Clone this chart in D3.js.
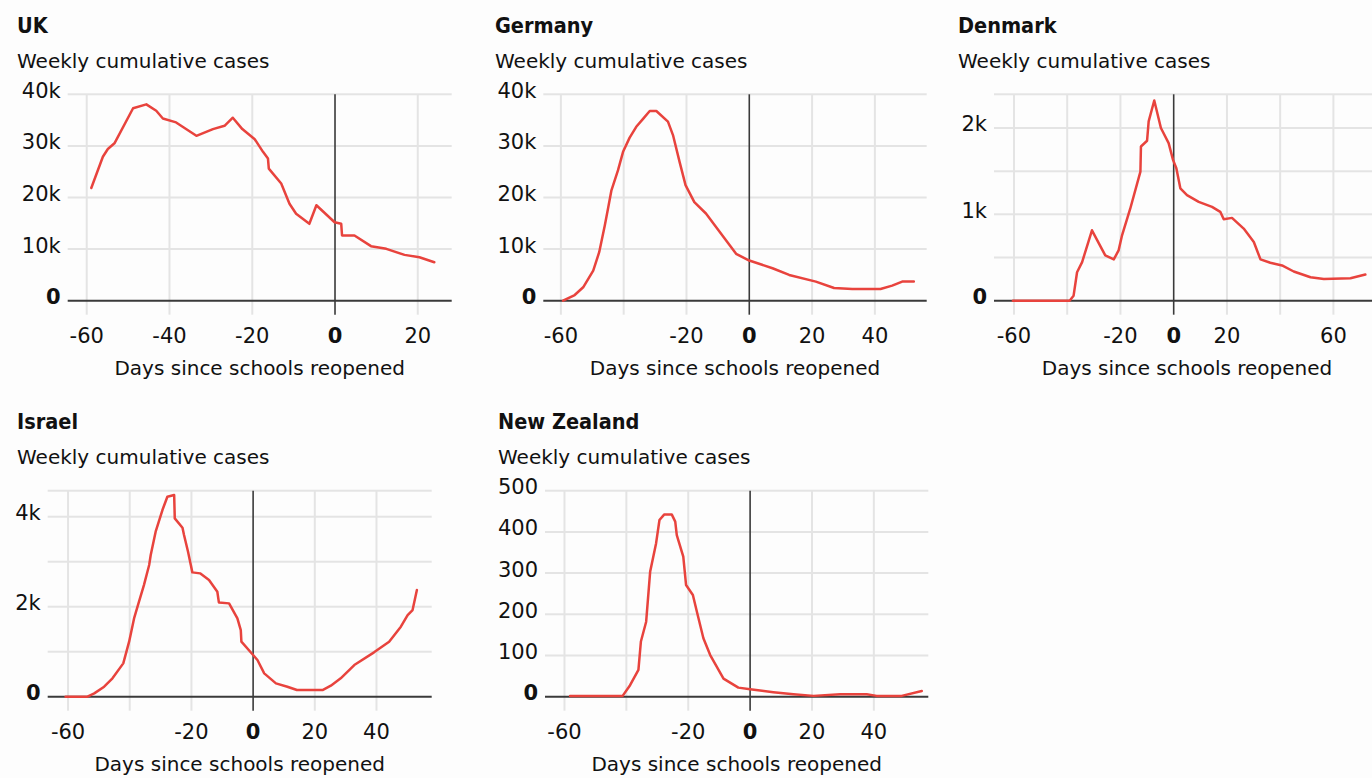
<!DOCTYPE html>
<html>
<head>
<meta charset="utf-8">
<script src="https://cdn.jsdelivr.net/npm/d3@7"></script>
<style>
  html, body { margin: 0; padding: 0; background: #fdfdfd; }
  svg { display: block; }
</style>
</head>
<body>
<svg id="chart" width="1372" height="778"></svg>
<script>
// ---------------- DATA ----------------
const countries = ["UK", "Germany", "Denmark", "Israel", "New Zealand"];
const subtitle = "Weekly cumulative cases";
const xAxisTitle = "Days since schools reopened";

const ukDays  = [-58.9,-56.1,-54.9,-53.3,-48.8,-45.6,-43.2,-41.6,-38.4,-33.5,-29.5,-26.7,-24.7,-22.4,-19.4,-17.4,-16.2,-16.0,-13.0,-11.0,-9.4,-6.2,-4.5,-0.1,1.5,1.7,4.7,8.7,12.4,16.8,20.4,24.0];
const ukCases = [21850,27900,29400,30500,37300,38050,36800,35300,34550,31960,33260,33900,35460,33260,31300,28850,27550,25600,22700,18800,16850,14900,18500,15200,14900,12640,12640,10570,10050,8880,8430,7460];

const deDays  = [-59.3,-55.6,-52.9,-49.7,-47.8,-46.0,-45.0,-43.9,-41.8,-40.2,-38.1,-36.0,-33.9,-31.7,-29.6,-25.9,-24.3,-22.2,-20.3,-17.5,-13.8,-8.5,-4.2,0,7.4,12.7,21.2,27.0,32.8,41.8,45.5,48.7,52.4];
const deCases = [0,1100,2600,5830,9400,14600,17800,21400,25300,28850,31600,33700,35200,36760,36760,34700,32100,26900,22400,19100,16900,12600,9080,7780,6290,4990,3700,2460,2270,2270,2920,3700,3700];

const dkDays  = [-60.4,-39.1,-37.6,-36.3,-34.4,-30.7,-25.7,-22.5,-20.7,-19.4,-16.3,-12.5,-12.3,-10.0,-9.4,-7.3,-4.8,-1.9,-0.25,1.0,2.5,5.0,9.4,14.4,17.5,18.8,21.9,26.3,30.1,32.6,36.3,40.7,45.1,51.4,56.4,66.4,72.0];
const dkCases = [0,0,58,330,447,815,524,478,582,757,1068,1495,1786,1852,2077,2318,2000,1825,1631,1534,1301,1223,1145,1087,1029,944,959,835,680,478,439,408,338,272,252,260,303];

const ilDays  = [-60.8,-53.7,-51.5,-48.3,-45.6,-42.1,-40.2,-38.6,-37.0,-35.4,-33.7,-33.2,-31.6,-29.4,-27.8,-25.6,-25.4,-22.9,-22.4,-21.1,-20.2,-19.7,-17.2,-14.3,-11.6,-11.1,-7.8,-5.1,-4.0,-3.8,0,1.4,3.6,7.4,11.1,14.2,22.5,25.2,28.4,32.8,39.2,44.1,47.9,50.1,51.7,53.1];
const ilCases = [0,0,74,222,408,741,1223,1741,2112,2482,2927,3149,3668,4150,4446,4483,3964,3757,3594,3223,2927,2764,2742,2593,2334,2097,2075,1741,1482,1223,926,815,519,296,222,148,148,245,408,704,986,1223,1556,1815,1927,2371];

const nzDays  = [-58.2,-41.2,-38.8,-36.1,-35.3,-33.6,-32.3,-30.4,-29.3,-27.8,-25.3,-24.2,-23.7,-21.6,-20.7,-18.5,-17.2,-15.1,-12.9,-8.6,-3.8,0,7.5,14.0,20.5,29.1,37.7,40.9,49.0,55.5];
const nzCases = [2,2,28,65,134,182,304,372,429,442,442,425,392,340,271,247,206,142,101,44,22,18,11,6,2,6,6,2,2,14];

// tick values / labels
const ukYTicks = [0,10000,20000,30000,40000];   const ukYLabels = ["0","10k","20k","30k","40k"];
const deYTicks = [0,10000,20000,30000,40000];   const deYLabels = ["0","10k","20k","30k","40k"];
const dkYTicks = [0,500,1000,1500,2000];        const dkYLabels = ["0","","1k","","2k"];
const ilYTicks = [0,1000,2000,3000,4000];       const ilYLabels = ["0","","2k","","4k"];
const nzYTicks = [0,100,200,300,400,500];       const nzYLabels = ["0","100","200","300","400","500"];

const ukXTicks = [-60,-40,-20,0,20];            const ukXLabels = ["-60","-40","-20","0","20"];
const deXTicks = [-60,-40,-20,0,20,40];         const deXLabels = ["-60","","-20","0","20","40"];
const dkXTicks = [-60,-40,-20,0,20,40,60];      const dkXLabels = ["-60","","-20","0","20","","60"];
const ilXTicks = [-60,-40,-20,0,20,40];         const ilXLabels = ["-60","","-20","0","20","40"];
const nzXTicks = [-60,-40,-20,0,20,40];         const nzXLabels = ["-60","","-20","0","20","40"];

// domains
const ukXDomain = [-64.6, 28.2]; const ukYMax = 40000;
const deXDomain = [-65.6, 56.5]; const deYMax = 40000;
const dkXDomain = [-67.5, 77.5]; const dkYMax = 2390;
const ilXDomain = [-66.6, 57.9]; const ilYMax = 4580;
const nzXDomain = [-66.3, 57.6]; const nzYMax = 500;

// ---------------- LAYOUT ----------------
const panels = [
  { name: countries[0], days: ukDays, cases: ukCases, xDom: ukXDomain, yMax: ukYMax, yTicks: ukYTicks, yLabels: ukYLabels, xTicks: ukXTicks, xLabels: ukXLabels, left: 67.7, right: 451.7, top: 94.3, bottom: 300.7, titleX: 17 },
  { name: countries[1], days: deDays, cases: deCases, xDom: deXDomain, yMax: deYMax, yTicks: deYTicks, yLabels: deYLabels, xTicks: deXTicks, xLabels: deXLabels, left: 543.3, right: 926.7, top: 94.3, bottom: 300.7, titleX: 495 },
  { name: countries[2], days: dkDays, cases: dkCases, xDom: dkXDomain, yMax: dkYMax, yTicks: dkYTicks, yLabels: dkYLabels, xTicks: dkXTicks, xLabels: dkXLabels, left: 994, right: 1380, top: 94.3, bottom: 300.7, titleX: 958 },
  { name: countries[3], days: ilDays, cases: ilCases, xDom: ilXDomain, yMax: ilYMax, yTicks: ilYTicks, yLabels: ilYLabels, xTicks: ilXTicks, xLabels: ilXLabels, left: 47.7, right: 431.7, top: 490.7, bottom: 696.7, titleX: 17 },
  { name: countries[4], days: nzDays, cases: nzCases, xDom: nzXDomain, yMax: nzYMax, yTicks: nzYTicks, yLabels: nzYLabels, xTicks: nzXTicks, xLabels: nzXLabels, left: 545, right: 928.3, top: 490.7, bottom: 696.7, titleX: 498 }
];

const svg = d3.select("#chart");
const TEXT = "#111";
const GRID = "#e4e4e4";
const AXIS = "#3a3a3a";
const RED = "#e8433d";
const FONT = "'DejaVu Sans', sans-serif";
const TITLEFONT = "'DejaVu Sans Condensed', 'DejaVu Sans', sans-serif";

panels.forEach(p => {
  const g = svg.append("g");
  const x = d3.scaleLinear().domain(p.xDom).range([p.left, p.right]);
  const y = d3.scaleLinear().domain([0, p.yMax]).range([p.bottom, p.top]);

  // titles
  g.append("text").attr("x", p.titleX).attr("y", p.top - 61.3)
    .attr("font-family", TITLEFONT).attr("font-stretch", "condensed")
    .attr("font-weight", "bold").attr("font-size", 21.5).attr("fill", TEXT).text(p.name);
  g.append("text").attr("x", p.titleX).attr("y", p.top - 26.3)
    .attr("font-family", FONT).attr("font-size", 20).attr("fill", TEXT).text(subtitle);

  // horizontal grid (ticks + top frame)
  const hLines = Array.from(new Set(p.yTicks.filter(v => v > 0).concat([p.yMax])));
  g.selectAll(".hg").data(hLines).enter().append("line")
    .attr("x1", p.left).attr("x2", p.right)
    .attr("y1", d => y(d)).attr("y2", d => y(d))
    .attr("stroke", GRID).attr("stroke-width", 2);

  // vertical grid
  g.selectAll(".vg").data(p.xTicks.filter(v => v !== 0)).enter().append("line")
    .attr("x1", d => x(d)).attr("x2", d => x(d))
    .attr("y1", p.top).attr("y2", p.bottom + 14)
    .attr("stroke", GRID).attr("stroke-width", 2);

  // zero vertical line
  g.append("line").attr("x1", x(0)).attr("x2", x(0))
    .attr("y1", p.top).attr("y2", p.bottom + 14)
    .attr("stroke", AXIS).attr("stroke-width", 1.6);

  // bottom axis line
  g.append("line").attr("x1", p.left).attr("x2", p.right)
    .attr("y1", y(0)).attr("y2", y(0))
    .attr("stroke", AXIS).attr("stroke-width", 2);

  // y tick labels
  g.selectAll(".yl").data(p.yTicks.map((v, i) => ({ v, l: p.yLabels[i] })).filter(d => d.l !== ""))
    .enter().append("text")
    .attr("x", p.left - 7).attr("y", d => y(d.v) + 3.5)
    .attr("text-anchor", "end")
    .attr("font-family", FONT).attr("font-size", 21)
    .attr("font-weight", d => d.v === 0 ? "bold" : "normal")
    .attr("fill", TEXT).text(d => d.l);

  // x tick labels
  g.selectAll(".xl").data(p.xTicks.map((v, i) => ({ v, l: p.xLabels[i] })).filter(d => d.l !== ""))
    .enter().append("text")
    .attr("x", d => x(d.v)).attr("y", p.bottom + 42.6)
    .attr("text-anchor", "middle")
    .attr("font-family", FONT).attr("font-size", 21)
    .attr("font-weight", d => d.v === 0 ? "bold" : "normal")
    .attr("fill", TEXT).text(d => d.l);

  // x axis title
  g.append("text").attr("x", (p.left + p.right) / 2).attr("y", p.bottom + 74)
    .attr("text-anchor", "middle")
    .attr("font-family", FONT).attr("font-size", 20).attr("fill", TEXT).text(xAxisTitle);

  // data line
  const pts = p.days.map((d, i) => [d, p.cases[i]]);
  g.append("path").datum(pts)
    .attr("d", d3.line().x(d => x(d[0])).y(d => y(d[1])))
    .attr("fill", "none").attr("stroke", RED).attr("stroke-width", 2.5)
    .attr("stroke-linejoin", "round").attr("stroke-linecap", "round");
});
</script>
</body>
</html>
